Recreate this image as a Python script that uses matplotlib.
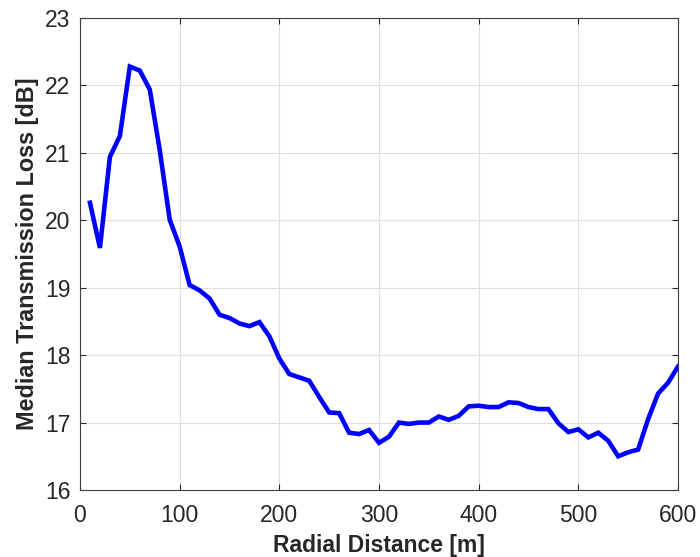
import matplotlib
matplotlib.use("Agg")
import matplotlib.pyplot as plt
import numpy as np

plt.rcParams['font.family'] = ['Liberation Sans', 'DejaVu Sans']

# radial distance bins [m] and median transmission loss [dB]
distance = np.arange(10, 601, 10)
median_tl = [20.26, 19.59, 20.94, 21.25, 22.28, 22.22, 21.94, 21.04, 20.01, 19.61,
             19.04, 18.96, 18.84, 18.60, 18.55, 18.47, 18.43, 18.49, 18.28, 17.95,
             17.72, 17.67, 17.62, 17.38, 17.15, 17.14, 16.85, 16.83, 16.89, 16.70,
             16.79, 17.00, 16.98, 17.00, 17.00, 17.09, 17.04, 17.10, 17.24, 17.25,
             17.23, 17.23, 17.30, 17.29, 17.23, 17.20, 17.20, 16.99, 16.86, 16.90,
             16.78, 16.85, 16.73, 16.50, 16.56, 16.60, 17.05, 17.43, 17.59, 17.83]

xticks = [0, 100, 200, 300, 400, 500, 600]
yticks = [16, 17, 18, 19, 20, 21, 22, 23]

fig = plt.figure(figsize=(7.0, 5.57), dpi=100)
ax = fig.add_axes([80/700, 1 - 490/557, 598/700, 472/557])

ax.plot(distance, median_tl, color=(0, 0, 1), linewidth=3.3, solid_joinstyle='miter')

ax.set_xlim(0, 600)
ax.set_ylim(16, 23)
ax.set_xticks(xticks)
ax.set_yticks(yticks)
ax.grid(True, color='#dedede', linewidth=0.8)
ax.set_axisbelow(True)

ax.tick_params(direction='in', top=True, right=True, length=4, width=0.8,
               color='#262626', labelsize=16.5, labelcolor='#262626')
ax.tick_params(axis='y', pad=7)
ax.tick_params(axis='x', pad=10)
for s in ax.spines.values():
    s.set_color('#404040')
    s.set_linewidth(0.8)

ax.set_xlabel('Radial Distance [m]', fontsize=16.5, fontweight='bold', color='#262626', labelpad=5)
ax.set_ylabel('Median Transmission Loss [dB]', fontsize=16.8, fontweight='bold', color='#262626', labelpad=4)

fig.savefig('out.png', dpi=100)
